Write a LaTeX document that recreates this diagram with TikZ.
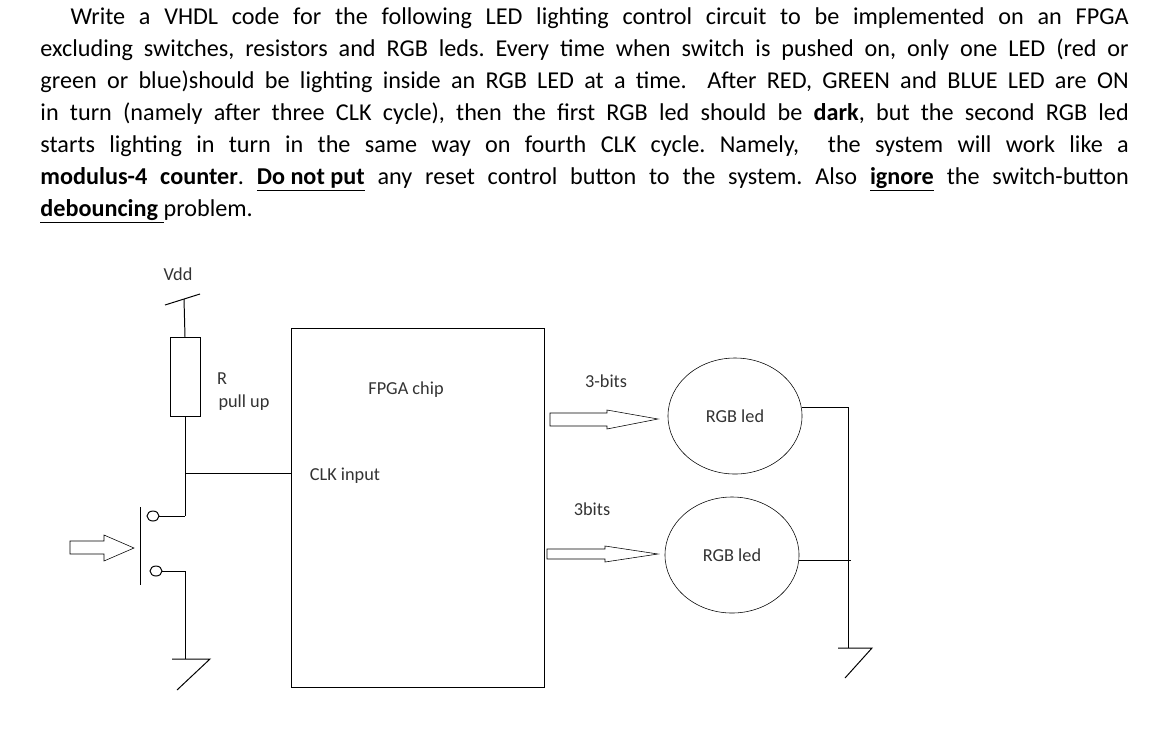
\documentclass[tikz,border=0pt]{standalone}
\usepackage{fontspec}
\setmainfont{Carlito}
\usetikzlibrary{shapes.geometric,positioning}

\tikzset{
    lbl/.style={font=\fontsize{13}{15}\selectfont, text=black!80},
    hollow/.style={draw, thin, fill=white},
    led/.style={draw, thin, ellipse, minimum width=3.35cm, minimum height=2.9cm, lbl}
}

\begin{document}
\frenchspacing
\begin{tikzpicture}[x=0.025cm, y=-0.025cm, line width=0.7pt]
    \useasboundingbox (0,0) rectangle (1162,731);

    % Problem text
    \node[anchor=north west, inner sep=0pt, text width=27.2cm, align=justify,
          font=\fontsize{17.2}{22.8}\selectfont] (txt) at (40,7)
    {\hspace*{0.75cm}Write a VHDL code for the following LED lighting control circuit to be implemented on an FPGA\linebreak
    excluding switches, resistors and RGB leds. Every time when switch is pushed on, only one LED (red or\linebreak
    green or blue)should be lighting inside an RGB LED at a time.\ \ After RED, GREEN and BLUE LED are ON\linebreak
    in turn (namely after three CLK cycle), then the first RGB led should be \textbf{dark}, but the second RGB led\linebreak
    starts lighting in turn in the same way on fourth CLK cycle. Namely,\ \ the system will work like a\linebreak
    \textbf{modulus-4 counter}. \underline{\textbf{Do not put}} any reset control button to the system. Also \underline{\textbf{ignore}} the switch-button\linebreak
    \underline{\textbf{debouncing} }problem.};

    % Supply and pull up
    \node[lbl] (vdd) at (178,274) {Vdd};
    \coordinate (vtop) at (184,299);
    \draw (165,305) -- (200,294);
    \node[draw, minimum width=0.75cm, minimum height=1.98cm, inner sep=0pt] (res) at (185,377) {};
    \draw (vtop) -- (res.north);
    \node[lbl] (rlbl) at (222,379) {R};
    \node[lbl] (pull) at (244,403) {pull up};

    % FPGA
    \node[draw, minimum width=6.3cm, minimum height=8.95cm, inner sep=0pt] (fpga) at (418,508) {};
    \node[lbl] (chip) at (406,390) {FPGA chip};
    \node[lbl] (clk) at (345,476) {CLK input};
    \coordinate (node1) at (185,473);
    \coordinate (sw1) at (185,516);
    \coordinate (sw2) at (185,571);
    \coordinate (gnd1) at (185,659);
    \draw (res.south) -- (sw1);
    \draw (node1) -- (node1 -| fpga.west);

    % Push button
    \node[draw, ellipse, minimum width=0.3cm, minimum height=0.25cm, inner sep=0pt] (c1) at (153,516) {};
    \node[draw, ellipse, minimum width=0.3cm, minimum height=0.25cm, inner sep=0pt] (c2) at (156,571) {};
    \draw (c1) -- (sw1);
    \draw (c2) -- (sw2) -- (gnd1);
    \draw (140,507) -- (140,585);
    \draw[hollow] (70,541) -- (104,541) -- (104,535) -- (134,548) -- (104,561) -- (104,554) -- (70,554) -- cycle;
    \draw (172,659) -- (210,659) -- (177,690);

    % LEDs
    \node[led] (led1) at (735,416) {RGB led};
    \node[led] (led2) at (732,555) {RGB led};
    \node[lbl] (b1) at (606,381) {3-bits};
    \node[lbl] (b2) at (592,509) {3bits};
    \draw[hollow] (550,413) -- (607,413) -- (607,410) -- (658,419) -- (607,429) -- (607,426) -- (550,426) -- cycle;
    \draw[hollow] (547,549) -- (605,549) -- (605,546) -- (658,554) -- (605,562) -- (605,559) -- (547,559) -- cycle;

    % Ground return
    \coordinate (g2) at (848,648);
    \draw (led1.east) ++(0,-9) -- (848,407) -- (g2);
    \draw (led2.east) ++(0,5) -- (851,560);
    \draw (838,648) -- (872,648) -- (845,678);
\end{tikzpicture}
\end{document}
